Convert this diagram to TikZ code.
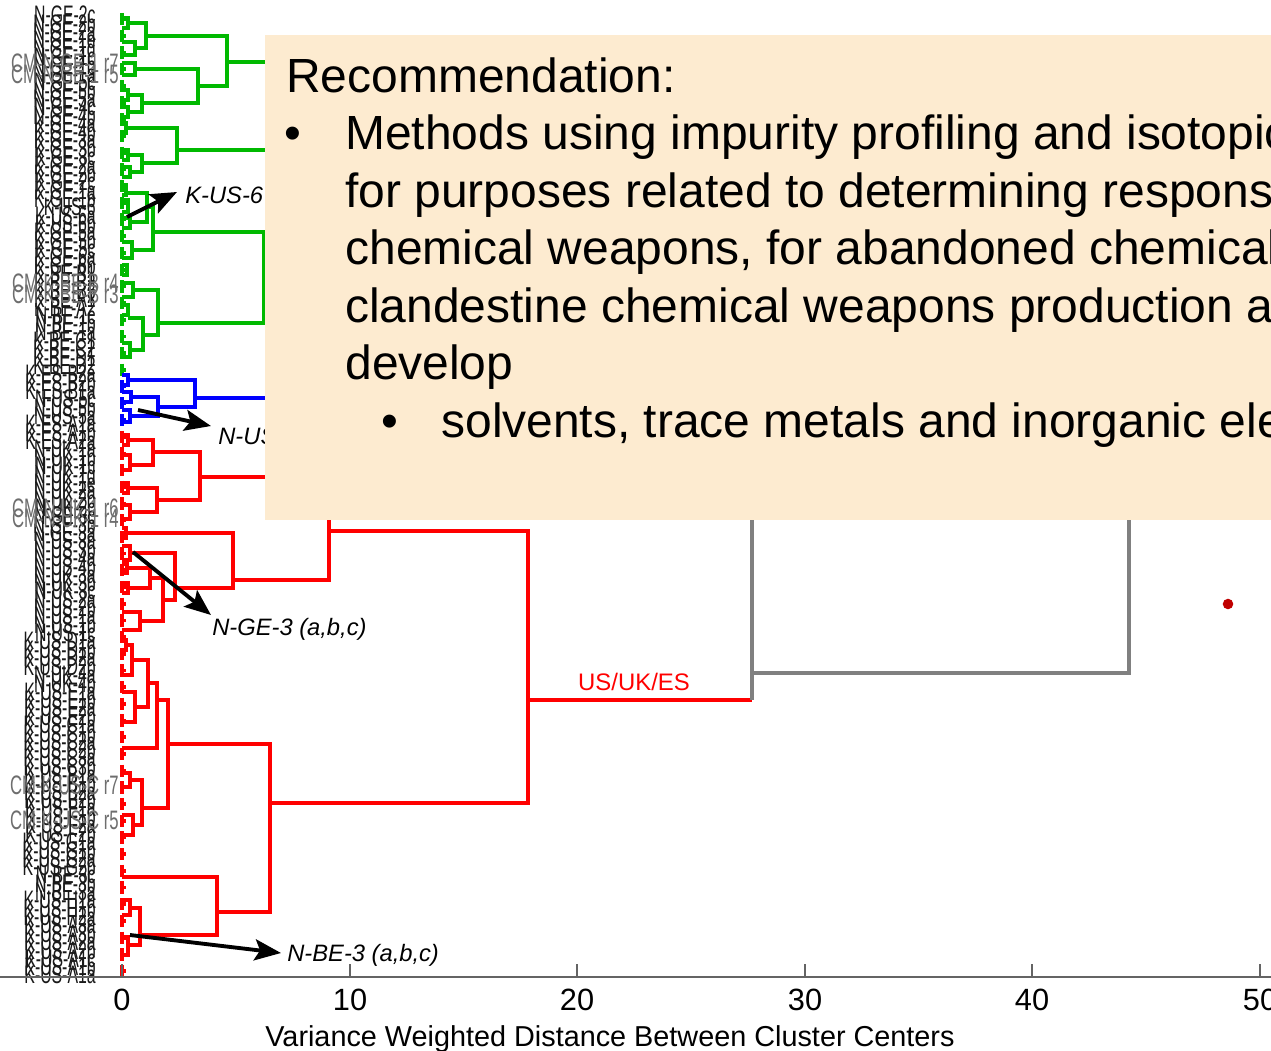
\documentclass[tikz,border=0pt]{standalone}
\usepackage{fontspec}
\setmainfont{Liberation Sans}
\usetikzlibrary{arrows.meta}
\definecolor{cgreen}{RGB}{0,185,0}
\definecolor{cblue}{RGB}{0,0,255}
\definecolor{cred}{RGB}{255,0,0}
\definecolor{cgray}{RGB}{128,128,128}
\definecolor{boxc}{RGB}{253,235,208}
\definecolor{lblc}{RGB}{25,25,25}
\definecolor{cmc}{RGB}{110,110,110}
\definecolor{dotc}{RGB}{192,0,0}
\definecolor{axc}{RGB}{100,100,100}
\newcommand\dlink[5]{\draw (#2,#1) -- (#5,#1) -- (#5,#3) -- (#4,#3);}
\tikzset{
  px/.style={x={(0.02cm,0)},y={(0,-0.02cm)}},
  tree/.style={line width=2.1pt, line cap=butt, line join=miter},
  leaflbl/.style={anchor=east, inner sep=0pt, text=lblc, font=\fontsize{9}{9}\selectfont},
  cmlbl/.style={anchor=east, inner sep=0pt, text=cmc, font=\fontsize{9.5}{9.5}\selectfont},
  boxtxt/.style={anchor=base west, inner sep=0pt, font=\fontsize{27.3}{32}\selectfont},
  bul/.style={anchor=base, inner sep=0pt, font=\fontsize{27.3}{32}\selectfont},
  note/.style={anchor=west, inner sep=0pt, font=\fontsize{13.5}{14}\selectfont\itshape},
  pointer/.style={line width=2.2pt, -{Stealth[length=15pt,width=12pt,inset=3pt]}},
  ticklbl/.style={anchor=base, inner sep=0pt, font=\fontsize{17.5}{17.5}\selectfont},
}
\begin{document}
\begin{tikzpicture}[px]
\clip (0,0) rectangle (1271,1051);
\fill[white] (0,0) rectangle (1271,1051);

% leaf labels
\foreach \t [count=\i from 0] in {N-GE-2c,N-GE-2b,N-GE-2a,N-GE-1e,N-GE-1d,N-GE-1c,N-GE-1b,N-GE-1a,N-GE-5c,N-GE-5b,N-GE-5a,N-GE-4c,N-GE-4b,K-GE-4a,K-GE-4b,K-GE-3a,K-GE-3b,K-GE-3c,K-GE-2a,K-GE-2b,K-GE-2c,K-GE-1a,K-GE-1b,K-US-6,K-US-6a,K-US-6b,K-GE-5a,K-GE-5b,K-GE-5c,K-GE-6a,K-GE-6b,K-BE-B1,K-BE-B2,K-BE-B3,K-BE-A1,K-BE-A2,N-BE-1c,N-BE-1b,N-BE-1a,K-BE-C1,K-BE-C2,K-BE-D1,K-BE-D2,K-ES-B2a,K-ES-B2b,K-ES-B1a,N-US-5c,N-US-5b,N-US-5a,K-ES-A1a,K-ES-A1b,K-ES-A2a,N-UK-1a,N-UK-1b,N-UK-1c,N-UK-1d,N-UK-1e,N-UK-2a,N-UK-2b,N-UK-2c,N-GE-3c,N-GE-3b,N-GE-3a,N-US-3a,N-US-3b,N-US-4a,N-US-4b,N-UK-3a,N-UK-3b,N-UK-3c,N-US-2a,N-US-2b,N-US-1a,N-US-1b,N-US-1c,K-US-D1a,K-US-D1b,K-US-D2a,K-US-D2b,N-UK-4a,N-UK-4b,K-US-E1a,K-US-E1b,K-US-E2a,K-US-E2b,K-US-C1a,K-US-C1b,K-US-C2a,K-US-C2b,K-US-C3a,K-US-C3b,K-US-B1a,K-US-B1b,K-US-B2a,K-US-B2b,K-US-F1a,K-US-F1b,K-US-F2a,K-US-F2b,K-US-G1a,K-US-G1b,K-US-G2a,K-US-G2b,N-BE-3c,N-BE-3b,N-BE-3a,K-US-H1a,K-US-H1b,K-US-H2a,K-US-A3a,K-US-A3b,K-US-A2a,K-US-A2b,K-US-A1c,K-US-A1b,K-US-A1a}
  {\node[leaflbl] (lf\i) at (96,{15+\i*8.35}) {\scalebox{1}[1.6]{\t}};}
\node[cmlbl] (cm1) at (119,63) {\scalebox{1}[1.6]{CM-N-GE-1 r7}};
\node[cmlbl] (cm2) at (119,74) {\scalebox{1}[1.6]{CM-N-GE-1 r5}};
\node[cmlbl] (cm3) at (119,283) {\scalebox{1}[1.6]{CM-K-BE-B r4}};
\node[cmlbl] (cm4) at (119,294) {\scalebox{1}[1.6]{CM-K-BE-B r3}};
\node[cmlbl] (cm5) at (119,508) {\scalebox{1}[1.6]{CM-N-UK-1 r6}};
\node[cmlbl] (cm6) at (119,518) {\scalebox{1}[1.6]{CM-N-UK-1 r4}};
\node[cmlbl] (cm7) at (119,785) {\scalebox{1}[1.6]{CM-K-US-C r7}};
\node[cmlbl] (cm8) at (119,820) {\scalebox{1}[1.6]{CM-K-US-C r5}};

% leaf dashes
\foreach \k in {0,...,21} {
  \draw[tree,draw=cgreen] (122,{15+2*\k*8.35-2}) -- (122,{15+(2*\k+1)*8.35+2});
  \draw[tree,draw=cgreen] (122,{15+(2*\k+0.5)*8.35}) -- (126,{15+(2*\k+0.5)*8.35});}
\foreach \k in {22,...,24} {
  \draw[tree,draw=cblue] (122,{15+2*\k*8.35-2}) -- (122,{15+(2*\k+1)*8.35+2});
  \draw[tree,draw=cblue] (122,{15+(2*\k+0.5)*8.35}) -- (126,{15+(2*\k+0.5)*8.35});}
\foreach \k in {25,...,57} {
  \draw[tree,draw=cred] (122,{15+2*\k*8.35-2}) -- (122,{15+(2*\k+1)*8.35+2});
  \draw[tree,draw=cred] (122,{15+(2*\k+0.5)*8.35}) -- (126,{15+(2*\k+0.5)*8.35});}

% green cluster
\begin{scope}[tree,draw=cgreen]
\dlink{18}{122}{28}{122}{128}
\dlink{42}{122}{55}{122}{135}
\dlink{23}{128}{48}{135}{146}
\dlink{63}{122}{75}{122}{135}
\dlink{90}{122}{100}{122}{128}
\dlink{107}{122}{117}{122}{128}
\dlink{95}{128}{112}{128}{142}
\dlink{69}{135}{103}{142}{198}
\dlink{36}{146}{86}{198}{227}
\draw (227,62) -- (300,62);
\dlink{123}{122}{133}{122}{126}
\dlink{150}{122}{160}{122}{128}
\dlink{167}{122}{177}{122}{130}
\dlink{155}{128}{172}{130}{142}
\dlink{128}{126}{163}{142}{177}
\draw (177,150) -- (300,150);
\dlink{185}{122}{195}{122}{126}
\dlink{200}{122}{212}{122}{128}
\dlink{218}{122}{228}{122}{130}
\dlink{193}{128}{222}{130}{147}
\dlink{242}{122}{258}{122}{132}
\dlink{207}{147}{250}{132}{153}
\dlink{265}{122}{275}{122}{127}
\dlink{283}{122}{297}{122}{133}
\dlink{305}{122}{315}{122}{128}
\dlink{343}{122}{357}{122}{130}
\dlink{318}{128}{350}{130}{143}
\draw (133,290) -- (158,290) -- (158,335) -- (143,335);
\dlink{232}{153}{323}{158}{264}
\draw (264,278) -- (300,278);
\end{scope}

% blue cluster
\begin{scope}[tree,draw=cblue]
\dlink{375}{122}{385}{122}{128}
\dlink{392}{122}{402}{122}{131}
\dlink{410}{122}{422}{122}{130}
\dlink{397}{131}{416}{130}{158}
\dlink{380}{128}{407}{158}{195}
\draw (195,398) -- (300,398);
\end{scope}

% red cluster
\begin{scope}[tree,draw=cred]
\dlink{435}{122}{445}{122}{128}
\dlink{455}{122}{470}{122}{130}
\dlink{440}{128}{465}{130}{153}
\dlink{483}{122}{493}{122}{128}
\dlink{505}{122}{519}{122}{130}
\dlink{488}{128}{512}{130}{157}
\dlink{452}{153}{500}{157}{200}
\dlink{477}{200}{580}{233}{329}
\dlink{528}{122}{538}{122}{126}
\dlink{546}{122}{560}{122}{130}
\dlink{564}{122}{573}{122}{127}
\dlink{583}{122}{593}{122}{128}
\dlink{568}{127}{588}{128}{150}
\dlink{612}{122}{630}{122}{140}
\dlink{578}{150}{621}{140}{163}
\dlink{553}{130}{600}{163}{175}
\dlink{533}{126}{588}{175}{233}
\dlink{640}{122}{650}{122}{126}
\dlink{645}{126}{675}{122}{132}
\dlink{692}{122}{722}{122}{135}
\dlink{660}{132}{707}{135}{148}
\dlink{683}{148}{748}{122}{157}
\dlink{773}{122}{787}{122}{130}
\dlink{815}{122}{835}{122}{133}
\dlink{780}{130}{825}{133}{142}
\dlink{700}{157}{808}{142}{168}
\dlink{900}{122}{915}{122}{130}
\dlink{937}{122}{955}{122}{128}
\dlink{908}{130}{945}{128}{140}
\dlink{877}{122}{935}{140}{217}
\dlink{744}{168}{912}{217}{270}
\dlink{531}{329}{803}{270}{528}
\draw (528,700) -- (752,700);
\end{scope}

% gray links
\begin{scope}[tree,draw=cgray]
\draw (752,700) -- (752,450);
\draw (752,673) -- (1129,673) -- (1129,450);
\end{scope}

\node[anchor=base, inner sep=0pt, text=cred, font=\fontsize{13.6}{14}\selectfont] (usuk) at (634,690) {US/UK/ES};
\node[circle, fill=dotc, inner sep=0pt, minimum size=6pt] (dot) at (1228,604) {};

% annotations
\node[note] (kus6) at (185,195) {K-US-6};
\coordinate (kus6t) at (127,217); \coordinate (kus6h) at (177,192);
\draw[pointer] (kus6t) -- (kus6h);
\node[note] (nus) at (218,436) {N-US};
\coordinate (nust) at (138,410); \coordinate (nush) at (211,426);
\draw[pointer] (nust) -- (nush);
\node[note] (nge3) at (212,629) {N-GE-3 (a,b,c)};
\coordinate (nge3t) at (133,552); \coordinate (nge3h) at (211,615);
\draw[pointer] (nge3t) -- (nge3h);
\node[note] (nbe3) at (287,955) {N-BE-3 (a,b,c)};
\coordinate (nbe3t) at (130,935); \coordinate (nbe3h) at (281,953);
\draw[pointer] (nbe3t) -- (nbe3h);

% recommendation box
\fill[boxc] (265,35) rectangle (1290,520);
\node[boxtxt] (rec) at (286,92) {Recommendation:};
\node[bul] (b1) at (293,149.5) {•};
\node[boxtxt] (l1) at (345,149.5) {Methods using impurity profiling and isotopic};
\node[boxtxt] (l2) at (345,207) {for purposes related to determining respons};
\node[boxtxt] (l3) at (345,264.5) {chemical weapons, for abandoned chemical};
\node[boxtxt] (l4) at (345,322) {clandestine chemical weapons production a};
\node[boxtxt] (l5) at (345,379.5) {develop};
\node[bul] (b2) at (390,437) {•};
\node[boxtxt] (l6) at (441,437) {solvents, trace metals and inorganic ele};

% axis
\draw[axc, line width=1.1pt] (0,977) -- (1271,977);
\foreach \v/\xx in {0/122,10/350,20/577,30/805,40/1032,50/1260} {
  \draw[axc, line width=1pt] (\xx,977) -- (\xx,964);
  \node[ticklbl] (t\v) at (\xx,1010) {\v};}
\node[anchor=base, inner sep=0pt, font=\fontsize{16.4}{17}\selectfont] (xlab) at (610,1046) {Variance Weighted Distance Between Cluster Centers};
\end{tikzpicture}
\end{document}
